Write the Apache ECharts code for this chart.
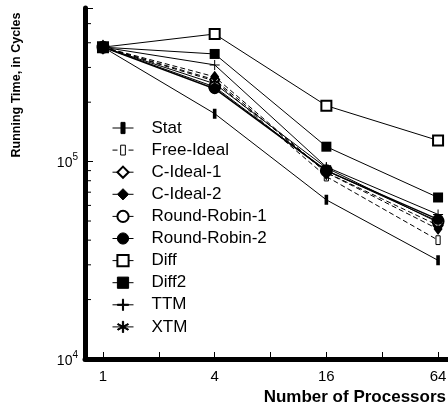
<!DOCTYPE html>
<html>
<head>
<meta charset="utf-8">
<script src="https://cdn.jsdelivr.net/npm/echarts@6/dist/echarts.min.js"></script>
<style>
html,body{margin:0;padding:0;background:#fff;}
#chart{width:448px;height:408px;}
</style>
</head>
<body>
<div id="chart"></div>
<script>
// ---- data ----
const procs = [1, 4, 16, 64];
const seriesNames = ['Stat', 'Free-Ideal', 'C-Ideal-1', 'C-Ideal-2', 'Round-Robin-1', 'Round-Robin-2', 'Diff', 'Diff2', 'TTM', 'XTM'];
const stat      = [3.8e5, 1.75e5, 6.4e4, 3.16e4];
const freeIdeal = [3.8e5, 2.56e5, 8.4e4, 4.0e4];
const cIdeal1   = [3.8e5, 2.60e5, 8.8e4, 4.75e4];
const cIdeal2   = [3.8e5, 2.69e5, 8.8e4, 4.55e4];
const rr1       = [3.8e5, 2.39e5, 9.0e4, 4.98e4];
const rr2       = [3.8e5, 2.34e5, 9.0e4, 5.1e4];
const diff      = [3.8e5, 4.43e5, 1.92e5, 1.28e5];
const diff2     = [3.8e5, 3.51e5, 1.19e5, 6.58e4];
const ttm       = [3.8e5, 3.09e5, 9.4e4, 5.4e4];
const xtm       = [3.8e5, 2.48e5, 9.3e4, 4.92e4];
const xTickLabels = [1, 4, 16, 64];
const yMinorTicks = [2e4, 3e4, 4e4, 5e4, 6e4, 7e4, 8e4, 9e4, 2e5, 3e5, 4e5, 5e5];
const X_MIN = 0.8, X_MAX = 72.4, Y_MIN = 1e4, Y_MAX = 6e5;

// ---- symbols ----
const SYM_STAT = 'path://M0,0L0,0ZM3.2,0H6.8V10H3.2ZM10,10L10,10Z';
const SYM_FREE = 'path://M0,0L0,0ZM2.9,0.6H7.1V9.4H2.9ZM10,10L10,10Z';
const SYM_PLUS = 'path://M4.5,0H5.5V4.5H10V5.5H5.5V10H4.5V5.5H0V4.5H4.5Z';
const SYM_AST  = 'path://M4.5,0H5.5V10H4.5ZM0.42,2.93L0.92,2.07L9.58,7.07L9.08,7.93ZM0.42,7.07L9.08,2.07L9.58,2.93L0.92,7.93Z';

const FONT = "'Liberation Sans', Arial, Helvetica, sans-serif";

function pairs(vals) { return procs.map((p, i) => [p, vals[i]]); }

function mk(name, vals, symbol, size, opts) {
  opts = opts || {};
  return {
    name: name,
    type: 'line',
    data: pairs(vals),
    symbol: symbol,
    symbolSize: size,
    showAllSymbol: true,
    lineStyle: { color: '#000', width: opts.width || 1, type: opts.dashed ? [5, 3] : 'solid' },
    itemStyle: {
      color: opts.hollow ? '#fff' : '#000',
      borderColor: '#000',
      borderWidth: opts.border == null ? 0 : opts.border
    },
    emphasis: { disabled: true },
    animation: false,
    z: 3
  };
}

const series = [
  mk(seriesNames[0], stat, SYM_STAT, 10),
  mk(seriesNames[1], freeIdeal, SYM_FREE, 10, { dashed: true, hollow: true, border: 1 }),
  mk(seriesNames[2], cIdeal1, 'emptyDiamond', [9, 12], { dashed: true, border: 1 }),
  mk(seriesNames[3], cIdeal2, 'diamond', [9, 12], { dashed: true }),
  mk(seriesNames[4], rr1, 'emptyCircle', 11, { border: 1 }),
  mk(seriesNames[5], rr2, 'circle', 11, { width: 1.5 }),
  mk(seriesNames[6], diff, 'emptyRect', 10, { border: 1 }),
  mk(seriesNames[7], diff2, 'rect', 10),
  mk(seriesNames[8], ttm, SYM_PLUS, 10),
  mk(seriesNames[9], xtm, SYM_AST, 10)
];

// minor ticks on the y axis (log decades)
series.push({
  type: 'custom',
  silent: true,
  clip: false,
  z: 5,
  data: yMinorTicks.map(v => [X_MIN, v]),
  renderItem: function (params, api) {
    const p = api.coord([api.value(0), api.value(1)]);
    return {
      type: 'line',
      shape: { x1: p[0] + 2, y1: p[1], x2: p[0] + 6, y2: p[1] },
      style: { stroke: '#000', lineWidth: 1 }
    };
  }
});

const chart = echarts.init(document.getElementById('chart'), null, { renderer: 'canvas' });
chart.setOption({
  animation: false,
  backgroundColor: '#fff',
  textStyle: { fontFamily: FONT },
  grid: { left: 85, right: 0, top: 8, bottom: 49, containLabel: false, outerBoundsMode: 'none' },
  legend: {
    data: seriesNames,
    orient: 'vertical',
    left: 107,
    top: 114.5,
    itemWidth: 21,
    itemHeight: 14,
    itemGap: 5.1,
    selectedMode: false,
    itemStyle: { borderWidth: 1 },
    lineStyle: { width: 1 },
    textStyle: { fontSize: 17, fontFamily: FONT, color: '#000', padding: [0, 0, 0, 13] }
  },
  xAxis: {
    type: 'log',
    logBase: 2,
    min: X_MIN,
    max: X_MAX,
    splitLine: { show: false },
    axisLine: { show: true, lineStyle: { color: '#000', width: 5 } },
    axisTick: { show: true, inside: true, length: 7, lineStyle: { color: '#000', width: 1 } },
    axisLabel: {
      margin: 10,
      fontSize: 15,
      color: '#000',
      fontFamily: FONT,
      showMinLabel: false,
      showMaxLabel: false,
      formatter: function (v) {
        for (const t of xTickLabels) { if (Math.abs(v - t) < 1e-6 * t) return String(t); }
        return '';
      }
    }
  },
  yAxis: {
    type: 'log',
    logBase: 10,
    min: Y_MIN,
    max: Y_MAX,
    splitLine: { show: false },
    axisLine: { show: true, lineStyle: { color: '#000', width: 5 } },
    axisTick: { show: true, inside: true, length: 8, lineStyle: { color: '#000', width: 1 } },
    axisLabel: {
      margin: 7,
      color: '#000',
      fontFamily: FONT,
      formatter: function (v) {
        const e = Math.log10(v);
        const r = Math.round(e);
        if (Math.abs(e - r) < 1e-6) return '{b|10}{s|' + r + '}';
        return '';
      },
      rich: {
        b: { fontSize: 14, lineHeight: 18, fontFamily: FONT, color: '#000', verticalAlign: 'bottom' },
        s: { fontSize: 10, lineHeight: 10, fontFamily: FONT, color: '#000', verticalAlign: 'top' }
      }
    }
  },
  graphic: [
    {
      type: 'text',
      x: 17, y: 85,
      rotation: Math.PI / 2,
      style: { text: 'Running Time, in Cycles', font: 'bold 12.5px ' + FONT, fill: '#000', textAlign: 'center', textVerticalAlign: 'middle' }
    },
    {
      type: 'text',
      x: 446, y: 397,
      style: { text: 'Number of Processors', font: 'bold 17px ' + FONT, fill: '#000', textAlign: 'right', textVerticalAlign: 'middle' }
    }
  ],
  series: series
});
</script>
</body>
</html>
